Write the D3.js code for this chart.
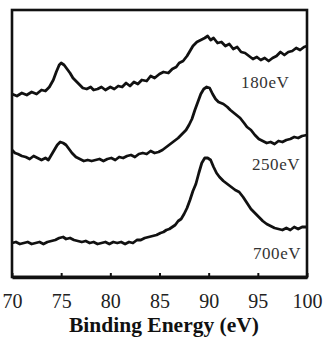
<!DOCTYPE html>
<html>
<head>
<meta charset="utf-8">
<script src="https://cdn.jsdelivr.net/npm/d3@7"></script>
<style>
    body { margin: 0; background: #fff; }
    svg { display: block; }
</style>
</head>
<body>
<div id="chart"></div>
<script>
// binding energy (eV) / intensity (arb. units, curves stacked)
let seriesNames = ['180eV', '250eV', '700eV'];

let be180 = [70.0, 70.5, 71.0, 71.5, 72.0, 72.5, 73.0, 73.4, 73.8, 74.2, 74.5, 74.8, 75.0, 75.3, 75.6, 75.9, 76.2, 76.6, 76.9, 77.2, 77.6, 78.0, 78.3, 78.7, 79.1, 79.5, 80.0, 80.4, 80.8, 81.2, 81.6, 82.0, 82.4, 82.8, 83.2, 83.7, 84.1, 84.5, 85.0, 85.4, 85.9, 86.3, 86.7, 87.0, 87.4, 87.8, 88.1, 88.4, 88.8, 89.2, 89.6, 89.9, 90.2, 90.5, 90.9, 91.3, 91.7, 92.1, 92.5, 92.9, 93.3, 93.7, 94.1, 94.5, 94.9, 95.3, 95.7, 96.1, 96.5, 96.9, 97.3, 97.7, 98.1, 98.5, 98.9, 99.3, 99.7, 100.0];
let int180 = [183, 181, 184, 182, 185, 183, 187, 186, 190, 197, 205, 212, 214, 212, 208, 204, 199, 195, 192, 189, 188, 190, 187, 188, 190, 187, 190, 188, 191, 190, 194, 191, 195, 193, 197, 196, 201, 199, 203, 205, 204, 208, 210, 214, 216, 221, 226, 231, 235, 237, 239, 241, 237, 239, 234, 235, 231, 233, 228, 230, 225, 224, 221, 218, 220, 217, 219, 216, 219, 221, 225, 222, 225, 226, 229, 227, 230, 231];

let be250 = [70.0, 70.3, 70.6, 71.0, 71.4, 71.8, 72.2, 72.6, 73.0, 73.4, 73.7, 74.0, 74.3, 74.6, 74.9, 75.2, 75.5, 75.8, 76.1, 76.5, 76.9, 77.3, 77.7, 78.1, 78.5, 78.9, 79.3, 79.7, 80.1, 80.5, 80.9, 81.3, 81.7, 82.1, 82.5, 82.9, 83.3, 83.7, 84.1, 84.5, 84.9, 85.3, 85.7, 86.1, 86.5, 86.9, 87.3, 87.7, 88.0, 88.3, 88.6, 88.9, 89.2, 89.5, 89.8, 90.1, 90.4, 90.7, 91.0, 91.5, 91.9, 92.2, 92.7, 93.2, 93.6, 93.9, 94.3, 94.7, 95.1, 95.5, 95.9, 96.3, 96.7, 97.1, 97.5, 97.9, 98.3, 98.7, 99.1, 99.5, 100.0];
let int250 = [127, 124, 123, 121, 120, 118, 121, 119, 117, 119, 117, 122, 127, 132, 135, 134, 132, 128, 124, 120, 118, 116, 117, 116, 117, 118, 116, 118, 119, 117, 120, 119, 121, 122, 120, 123, 124, 123, 126, 124, 125, 127, 130, 133, 136, 139, 143, 147, 152, 158, 167, 175, 183, 188, 190, 189, 183, 178, 175, 173, 170, 167, 163, 159, 154, 150, 147, 142, 138, 136, 134, 135, 133, 136, 135, 137, 138, 140, 139, 141, 142];

let be700 = [70.0, 70.4, 70.8, 71.2, 71.6, 72.0, 72.4, 72.8, 73.2, 73.6, 74.0, 74.4, 74.8, 75.2, 75.5, 75.9, 76.3, 76.7, 77.1, 77.5, 77.9, 78.3, 78.7, 79.1, 79.5, 79.9, 80.3, 80.7, 81.1, 81.5, 81.9, 82.3, 82.7, 83.1, 83.5, 83.9, 84.3, 84.7, 85.1, 85.4, 85.7, 86.0, 86.3, 86.6, 86.9, 87.2, 87.5, 87.8, 88.1, 88.4, 88.7, 89.0, 89.3, 89.6, 89.9, 90.2, 90.5, 90.8, 91.1, 91.5, 91.9, 92.3, 92.7, 93.1, 93.5, 93.9, 94.3, 94.7, 95.1, 95.5, 95.9, 96.3, 96.7, 97.1, 97.5, 97.9, 98.3, 98.7, 99.1, 99.5, 100.0];
let int700 = [34, 35, 33, 34, 35, 33, 34, 35, 33, 35, 36, 37, 39, 40, 38, 39, 37, 36, 35, 36, 34, 35, 33, 34, 35, 33, 35, 34, 35, 33, 35, 34, 37, 37, 39, 40, 41, 42, 44, 45, 47, 48, 50, 52, 56, 58, 63, 69, 77, 86, 93, 104, 114, 119, 119, 117, 110, 104, 100, 96, 93, 90, 87, 85, 80, 74, 68, 64, 60, 56, 53, 51, 49, 48, 47, 49, 47, 50, 48, 50, 50];

let xTicks = [70, 75, 80, 85, 90, 95, 100];
let xTitle = 'Binding Energy (eV)';

// label anchors (eV, intensity) for the series names
let labelBE = [93.3, 94.4, 94.5];
let labelInt = [189, 107, 18];

function drawChart(elementId) {
    let width = 329,
        height = 345;
    let plot = { left: 12, right: 307, top: 10, bottom: 277 };
    let serif = '"Liberation Serif", "Times New Roman", serif';

    let svg = d3.select('#' + elementId)
        .append('svg')
        .attr('width', width)
        .attr('height', height);

    let xScale = d3.scaleLinear()
        .domain([70, 100])
        .range([plot.left, plot.right]);

    let yScale = d3.scaleLinear()
        .domain([0, 267])
        .range([plot.bottom, plot.top]);

    let line = d3.line()
        .x(function(d) { return xScale(d[0]); })
        .y(function(d) { return yScale(d[1]); });

    let series = [
        d3.zip(be180, int180),
        d3.zip(be250, int250),
        d3.zip(be700, int700)
    ];

    svg.selectAll('path.curve')
        .data(series)
        .enter()
        .append('path')
        .attr('class', 'curve')
        .attr('d', line)
        .attr('fill', 'none')
        .attr('stroke', '#111')
        .attr('stroke-width', 2.8)
        .attr('stroke-linejoin', 'round');

    // frame
    svg.append('rect')
        .attr('x', plot.left)
        .attr('y', plot.top)
        .attr('width', plot.right - plot.left)
        .attr('height', plot.bottom - plot.top)
        .attr('fill', 'none')
        .attr('stroke', '#111')
        .attr('stroke-width', 2.6);

    // bottom axis: inward ticks, labels below
    let xAxis = d3.axisBottom(xScale)
        .tickValues(xTicks)
        .tickSizeInner(-4)
        .tickSizeOuter(0)
        .tickPadding(17);

    let gx = svg.append('g')
        .attr('transform', 'translate(0, ' + plot.bottom + ')')
        .call(xAxis);

    gx.select('.domain')
        .attr('stroke', '#111')
        .attr('stroke-width', 3.4);

    gx.selectAll('.tick line')
        .attr('stroke', '#111')
        .attr('stroke-width', 2);

    gx.selectAll('.tick text')
        .attr('fill', '#222')
        .style('font-family', serif)
        .style('font-size', '20px');

    svg.append('text')
        .attr('x', 164)
        .attr('y', 332)
        .attr('text-anchor', 'middle')
        .style('font-family', serif)
        .style('font-weight', 'bold')
        .style('font-size', '21.5px')
        .attr('fill', '#111')
        .text(xTitle);

    svg.selectAll('text.series-label')
        .data(seriesNames)
        .enter()
        .append('text')
        .attr('class', 'series-label')
        .attr('x', function(d, i) { return xScale(labelBE[i]); })
        .attr('y', function(d, i) { return yScale(labelInt[i]); })
        .style('font-family', serif)
        .style('font-size', '17px')
        .attr('letter-spacing', 0.6)
        .attr('fill', '#333')
        .text(function(d) { return d; });
}

drawChart('chart');
</script>
</body>
</html>
